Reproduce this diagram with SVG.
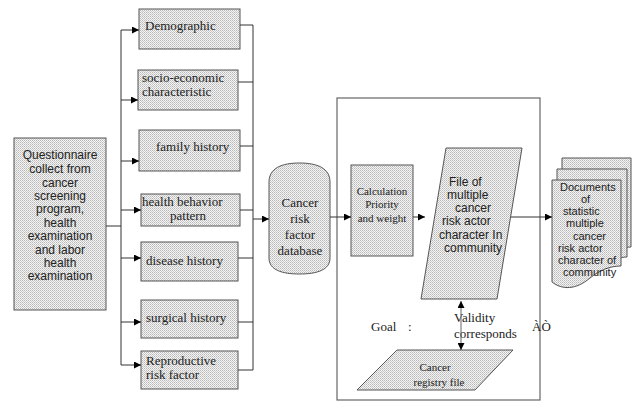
<svg xmlns="http://www.w3.org/2000/svg" width="632" height="403" viewBox="0 0 632 403">
<defs>
<pattern id="dots" width="2" height="2" patternUnits="userSpaceOnUse">
<rect width="2" height="2" fill="#f4f4f4"/>
<rect width="1" height="1" fill="#b8b8b8"/>
<rect x="1" y="1" width="1" height="1" fill="#cccccc"/>
</pattern>
<marker id="ah" viewBox="0 0 10 10" refX="10" refY="5" markerWidth="9" markerHeight="7" markerUnits="userSpaceOnUse" orient="auto-start-reverse">
<path d="M0,0 L10,5 L0,10 Z" fill="#000"/>
</marker>
</defs>
<style>
.box{fill:url(#dots);stroke:#555;stroke-width:1}
.ln{fill:none;stroke:#333;stroke-width:1}
.ar{fill:none;stroke:#333;stroke-width:1;marker-end:url(#ah)}
.ser{font-family:"Liberation Serif","Times New Roman",serif;font-size:13px;fill:#222}
.ser11{font-family:"Liberation Serif","Times New Roman",serif;font-size:11px;fill:#222}
.sans{font-family:"Liberation Sans",Arial,sans-serif;font-size:12px;fill:#222}
.sans11{font-family:"Liberation Sans",Arial,sans-serif;font-size:11px;fill:#222}
</style>
<rect width="632" height="403" fill="#fff"/>

<g id="frame">
<rect x="337" y="98" width="203" height="302" fill="none" stroke="#666" stroke-width="1.2"/>
</g>

<g id="questionnaire">
<rect class="box" x="14" y="138" width="92" height="172"/>
<g class="sans" text-anchor="middle">
<text x="60" y="159">Questionnaire</text>
<text x="60" y="173">collect from</text>
<text x="60" y="187">cancer</text>
<text x="60" y="200">screening</text>
<text x="60" y="213">program,</text>
<text x="60" y="227">health</text>
<text x="60" y="240">examination</text>
<text x="60" y="254">and labor</text>
<text x="60" y="267">health</text>
<text x="60" y="280">examination</text>
</g>
</g>

<g id="demographic">
<rect class="box" x="139" y="9" width="101" height="40"/>
<text class="ser" x="145" y="30">Demographic</text>
</g>
<g id="socio">
<rect class="box" x="138" y="70" width="100" height="40"/>
<text class="ser" x="142" y="82">socio-economic</text>
<text class="ser" x="142" y="96">characteristic</text>
</g>
<g id="family">
<rect class="box" x="139" y="130" width="101" height="41"/>
<text class="ser" x="156" y="151">family history</text>
</g>
<g id="health">
<rect class="box" x="141" y="194" width="99" height="32"/>
<text class="ser" x="142" y="206">health behavior</text>
<text class="ser" x="170" y="220">pattern</text>
</g>
<g id="disease">
<rect class="box" x="141" y="242" width="97" height="39"/>
<text class="ser" x="146" y="265">disease history</text>
</g>
<g id="surgical">
<rect class="box" x="141" y="300" width="97" height="38"/>
<text class="ser" x="146" y="322">surgical history</text>
</g>
<g id="reproductive">
<rect class="box" x="141" y="351" width="97" height="38"/>
<text class="ser" x="146" y="365">Reproductive</text>
<text class="ser" x="146" y="379">risk factor</text>
</g>

<g id="database">
<path class="box" d="M269,182 C269,168 282,163 299.5,163 C317,163 330,168 330,182 L330,258 C330,270 317,274 299.5,274 C282,274 269,270 269,258 Z"/>
<g class="ser" text-anchor="middle">
<text x="300" y="207">Cancer</text>
<text x="300" y="223">risk</text>
<text x="300" y="239">factor</text>
<text x="300" y="255">database</text>
</g>
</g>

<g id="calculation">
<rect class="box" x="351" y="165" width="62" height="91"/>
<g class="ser11" text-anchor="middle">
<text x="382" y="195">Calculation</text>
<text x="382" y="208">Priority</text>
<text x="382" y="222">and weight</text>
</g>
</g>

<g id="filemulti">
<polygon class="box" points="446,148 522,148 497,299 421,299"/>
<g class="sans">
<text x="449" y="186">File of</text>
<text x="447" y="199">multiple</text>
<text x="455" y="212">cancer</text>
<text x="442" y="225">risk actor</text>
<text x="439" y="239">character In</text>
<text x="444" y="252">community</text>
</g>
</g>

<g id="registry">
<polygon class="box" points="397,350 513,350 475,390 357,390"/>
<g class="ser11" text-anchor="middle">
<text x="435" y="371">Cancer</text>
<text x="439" y="386">registry file</text>
</g>
</g>

<g id="documents">
<path class="box" d="M562,158 L631,158 L631,247 C624,247 620,250 617,252 L562,252 Z"/>
<path class="box" d="M557,169 L627,169 L627,257 C620,257 616,260 612,262 L557,262 Z"/>
<path class="box" d="M552,180 L621,180 L621,266 C610,266 600,270 590,278 C576,290 562,290 552,282 Z"/>
<g class="sans11">
<text x="560" y="191">Documents</text>
<text x="581" y="203">of</text>
<text x="563" y="215">statistic</text>
<text x="566" y="227">multiple</text>
<text x="573" y="240">cancer</text>
<text x="558" y="252">risk actor</text>
<text x="558" y="264">character of</text>
<text x="563" y="276">community</text>
</g>
</g>

<g id="labels">
<text class="ser" x="371" y="331">Goal</text>
<text class="ser" x="408" y="331">:</text>
<text class="ser" x="454" y="322">Validity</text>
<text class="ser" x="454" y="338">corresponds</text>
<text class="ser" x="532" y="331">ÀÒ</text>
</g>

<g id="connectors">
<path class="ln" d="M106,226 H121"/>
<path class="ln" d="M121,30 V365"/>
<path class="ar" d="M121,30 H139"/>
<path class="ar" d="M121,100 H138"/>
<path class="ar" d="M121,161 H139"/>
<path class="ar" d="M121,210 H141"/>
<path class="ar" d="M121,258 H141"/>
<path class="ar" d="M121,322 H141"/>
<path class="ar" d="M121,365 H141"/>
<path class="ln" d="M240,25 H253 M238,82 H253 M240,146 H253 M240,210 H253 M238,258 H253 M238,322 H253 M238,370 H253"/>
<path class="ln" d="M253,25 V370"/>
<path class="ar" d="M253,219 H269"/>
<path class="ar" d="M330,217 H351"/>
<path class="ar" d="M413,217 H425"/>
<path class="ar" d="M511,217 H552"/>
<path d="M461,301 V350" fill="none" stroke="#666" stroke-width="1" marker-start="url(#ah)" marker-end="url(#ah)"/>
</g>
</svg>
